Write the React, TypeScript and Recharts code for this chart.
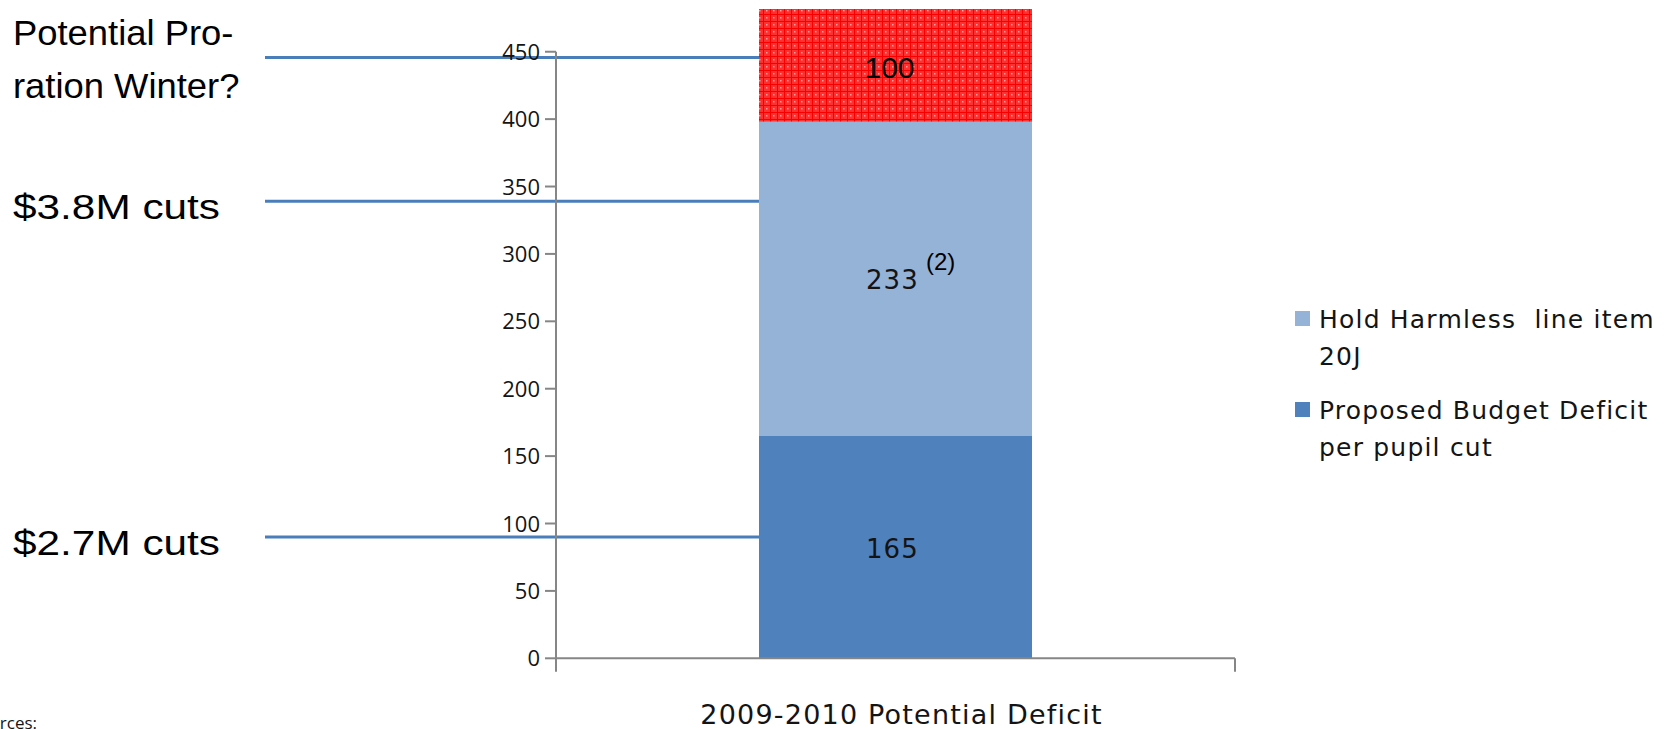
import React from 'react';
import { BarChart, Bar, XAxis, YAxis, ReferenceLine, LabelList, Legend } from 'recharts';

// ---------- data ----------
const categories = ['2009-2010 Potential Deficit'];
const proposedBudgetDeficit = [165];
const holdHarmless = [233];
const potentialProration = [100];
const yTicks = [0, 50, 100, 150, 200, 250, 300, 350, 400, 450];
const annotationValues = [445.8, 339, 90];
const annotationLabels = [['Potential Pro-', 'ration Winter?'], ['$3.8M cuts'], ['$2.7M cuts']];
const seriesNames = {
  proposed: 'Proposed Budget Deficit\nper pupil cut',
  hold: 'Hold Harmless  line item\n20J',
  proration: 'Potential Proration',
};
const legendOrder = ['hold', 'proposed'];
const footnoteMarker = '(2)';
const sourcesLabel = 'Sources:';

const data = categories.map((c, i) => ({
  category: c,
  proposed: proposedBudgetDeficit[i],
  hold: holdHarmless[i],
  proration: potentialProration[i],
}));

// ---------- layout / style ----------
const W = 1677;
const H = 729;
const MARGIN = { top: 9, right: 442, bottom: 0.7, left: 0 };
const Y_AXIS_WIDTH = 556;
const X_AXIS_HEIGHT = 70;
const PLOT_TOP = MARGIN.top;
const PLOT_HEIGHT = H - MARGIN.top - MARGIN.bottom - X_AXIS_HEIGHT;
const PLOT_WIDTH = W - MARGIN.left - MARGIN.right - Y_AXIS_WIDTH;
const DOMAIN_MAX = 481.7;
const BAR_SIZE = 273;
const AXIS_COLOR = '#868686';
const TEXT_COLOR = '#141414';
const CAL_FONT = '"DejaVu Sans", sans-serif';
const TICK_FONT = '"Open Sans", sans-serif';
const ARIAL_FONT = '"Liberation Sans", Arial, sans-serif';
const ANNOT_LINE_START = 265;
const ANNOT_TEXT_X = 13;
const ANNOT_STRETCH = [1.04, 1.21, 1.21];
const LEGEND_LEFT = 1292;
const LEGEND_TOP = 292;
const LEGEND_LINE = 36.5;
const LEGEND_ITEM_PITCH = 91;

const YTick = (props: any) => {
  const { x, y, payload } = props;
  const pxPerUnit = PLOT_HEIGHT / DOMAIN_MAX;
  const axisX = MARGIN.left + Y_AXIS_WIDTH;
  return (
    <g>
      <text x={x} y={y} dy={8} textAnchor="end" fontFamily={TICK_FONT} fontSize={22} fill={TEXT_COLOR}>
        {payload.value}
      </text>
      {payload.value === 0 && (
        <line
          x1={axisX}
          x2={axisX}
          y1={y + 13.4}
          y2={y - Math.max(...yTicks) * pxPerUnit}
          stroke={AXIS_COLOR}
          strokeWidth={2}
        />
      )}
    </g>
  );
};

const XTick = (props: any) => {
  const { x, y, payload } = props;
  const half = PLOT_WIDTH / 2;
  return (
    <g>
      <line x1={x + half} x2={x + half} y1={y} y2={y + 13.4} stroke={AXIS_COLOR} strokeWidth={2} />
      <text x={x + 6} y={y + 66} textAnchor="middle" fontFamily={CAL_FONT} fontSize={27} letterSpacing={1.2} fill={TEXT_COLOR}>
        {payload.value}
      </text>
    </g>
  );
};

const rectOf = (props: any) => {
  const vb = props.viewBox && props.viewBox.width !== undefined ? props.viewBox : props;
  return { x: Number(vb.x), y: Number(vb.y), width: Number(vb.width), height: Number(vb.height) };
};

const CalLabel = (suffix?: string) => (props: any) => {
  const r = rectOf(props);
  const cx = r.x + r.width / 2;
  const top = Math.max(r.y, PLOT_TOP);
  const cy = (top + r.y + r.height) / 2;
  return (
    <g>
      <text x={cx - 3} y={cy + 10.5} textAnchor="middle" fontFamily={CAL_FONT} fontSize={26} letterSpacing={1.2} fill={TEXT_COLOR}>
        {props.value}
      </text>
      {suffix && (
        <text x={cx + 30.5} y={cy - 8.5} fontFamily={ARIAL_FONT} fontSize={24} fill="#000">
          {suffix}
        </text>
      )}
    </g>
  );
};

const ArialLabel = (props: any) => {
  const r = rectOf(props);
  const cx = r.x + r.width / 2;
  const top = Math.max(r.y, PLOT_TOP);
  const cy = (top + r.y + r.height) / 2;
  return (
    <text x={cx - 6} y={cy + 12.5} textAnchor="middle" fontFamily={ARIAL_FONT} fontSize={30} fill="#000">
      {props.value}
    </text>
  );
};

const makeAnnotShape = (lines: string[], idx: number) => (p: any) => {
  const y = Number(p.y1);
  const barLeft = (Number(p.x1) + Number(p.x2)) / 2 - BAR_SIZE / 2;
  const sx = ANNOT_STRETCH[idx] ?? 1;
  return (
    <g>
      <line x1={ANNOT_LINE_START} x2={barLeft} y1={y} y2={y} stroke="#4A7EBB" strokeWidth={3} />
      {lines.map((t, j) => {
        const ty = lines.length > 1 ? y - 12.5 + j * 53.5 : y + 18;
        return (
          <g key={j} transform={`translate(${ANNOT_TEXT_X},${ty}) scale(${sx},1)`}>
            <text x={0} y={0} fontFamily={ARIAL_FONT} fontSize={35} fill="#000">
              {t}
            </text>
          </g>
        );
      })}
    </g>
  );
};

const LegendContent = (props: any) => {
  const items: any[] = props.payload || [];
  const ordered = legendOrder
    .map((k) => items.find((p) => p.dataKey === k))
    .filter(Boolean);
  return (
    <svg width={W - LEGEND_LEFT} height={210} style={{ display: 'block' }}>
      {ordered.map((item: any, i: number) => {
        const lines = String(item.value).split('\n');
        const off = i * LEGEND_ITEM_PITCH;
        return (
          <g key={item.dataKey}>
            <rect x={3} y={19 + off} width={15} height={15} fill={item.color} />
            {lines.map((ln, j) => (
              <text
                key={j}
                x={27}
                y={36 + off + j * LEGEND_LINE}
                fontFamily={CAL_FONT}
                fontSize={25}
                letterSpacing={1.2}
                fill={TEXT_COLOR}
                style={{ whiteSpace: 'pre' }}
              >
                {ln}
              </text>
            ))}
          </g>
        );
      })}
    </svg>
  );
};

export default function App() {
  return (
    <div style={{ position: 'absolute', left: 0, top: 0, width: W, height: H, overflow: 'hidden', background: '#fff' }}>
      <svg width={W} height={H} style={{ position: 'absolute', left: 0, top: 0 }}>
        <defs>
          <pattern id="redGrid" width={7} height={7} patternUnits="userSpaceOnUse">
            <rect x={0} y={0} width={7} height={7} fill="#ff3030" />
            <rect x={0} y={0} width={7} height={1} fill="#f80000" />
            <rect x={0} y={0} width={1} height={7} fill="#f80000" />
            <rect x={3} y={3} width={1.5} height={1.5} fill="#ff9a9a" />
          </pattern>
        </defs>
        <text x={37} y={729} textAnchor="end" fontFamily={TICK_FONT} fontSize={17} fill={TEXT_COLOR}>
          {sourcesLabel}
        </text>
      </svg>
      <div style={{ position: 'absolute', left: 0, top: 0 }}>
        <BarChart width={W} height={H} data={data} margin={MARGIN}>
          <XAxis
            dataKey="category"
            height={X_AXIS_HEIGHT}
            tickLine={false}
            tickSize={0}
            tickMargin={0}
            axisLine={{ stroke: AXIS_COLOR, strokeWidth: 2 }}
            tick={<XTick />}
          />
          <YAxis
            type="number"
            width={Y_AXIS_WIDTH}
            domain={[0, DOMAIN_MAX]}
            allowDataOverflow
            ticks={yTicks}
            interval={0}
            axisLine={false}
            tickSize={11}
            tickMargin={5}
            tickLine={{ stroke: AXIS_COLOR, strokeWidth: 2 }}
            tick={<YTick />}
          />
          <Bar dataKey="proposed" name={seriesNames.proposed} stackId="a" fill="#4F81BD" barSize={BAR_SIZE} isAnimationActive={false}>
            <LabelList dataKey="proposed" content={CalLabel()} />
          </Bar>
          <Bar dataKey="hold" name={seriesNames.hold} stackId="a" fill="#95B3D7" barSize={BAR_SIZE} isAnimationActive={false}>
            <LabelList dataKey="hold" content={CalLabel(footnoteMarker)} />
          </Bar>
          <Bar
            dataKey="proration"
            name={seriesNames.proration}
            stackId="a"
            fill="url(#redGrid)"
            barSize={BAR_SIZE}
            legendType="none"
            isAnimationActive={false}
          >
            <LabelList dataKey="proration" content={ArialLabel} />
          </Bar>
          {annotationValues.map((v, i) => (
            <ReferenceLine key={i} y={v} ifOverflow="visible" shape={makeAnnotShape(annotationLabels[i], i)} />
          ))}
          <Legend
            layout="horizontal"
            verticalAlign="middle"
            align="center"
            wrapperStyle={{ left: LEGEND_LEFT, top: LEGEND_TOP, width: W - LEGEND_LEFT, height: 210 }}
            content={LegendContent}
          />
        </BarChart>
      </div>
    </div>
  );
}
